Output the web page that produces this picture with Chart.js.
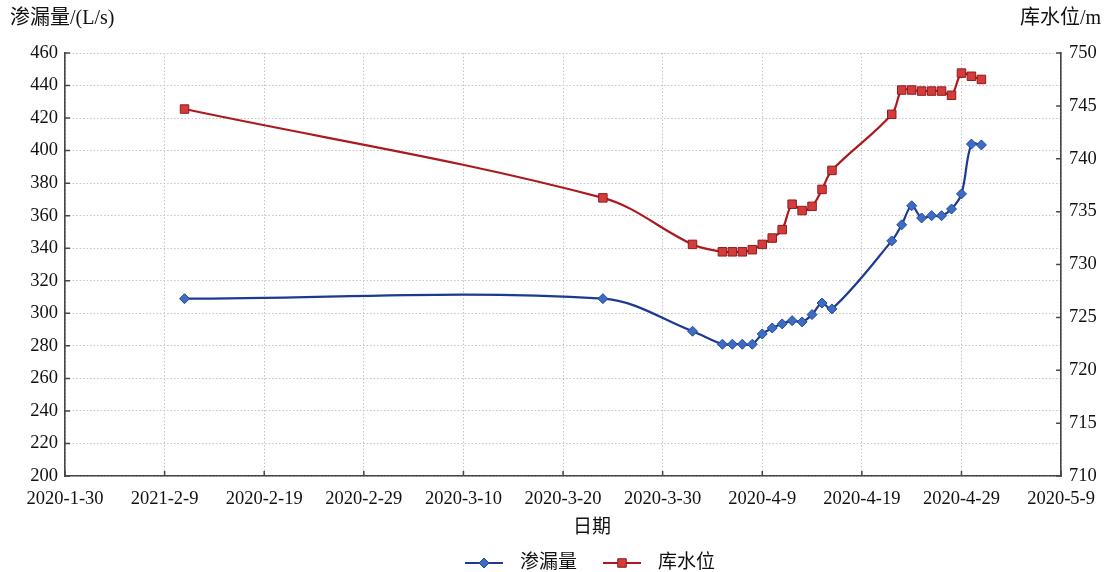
<!DOCTYPE html>
<html>
<head>
<meta charset="utf-8">
<script src="https://cdn.jsdelivr.net/npm/chart.js@4/dist/chart.umd.min.js"></script>
<style>
  html, body { margin: 0; padding: 0; background: #ffffff; }
  canvas { display: block; }
</style>
</head>
<body>
<canvas id="chart" width="1107" height="572"></canvas>
<script>
// Observation dates
const dates = ['2020-2-11', '2020-3-24', '2020-4-2', '2020-4-5', '2020-4-6', '2020-4-7', '2020-4-8',
  '2020-4-9', '2020-4-10', '2020-4-11', '2020-4-12', '2020-4-13', '2020-4-14', '2020-4-15', '2020-4-16',
  '2020-4-22', '2020-4-23', '2020-4-24', '2020-4-25', '2020-4-26', '2020-4-27', '2020-4-28', '2020-4-29',
  '2020-4-30', '2020-5-1'];

// 渗漏量 (L/s)
const seepage = [309, 309, 289, 281, 281, 281, 281,
  287.3, 291, 293.5, 295.5, 294.7, 299.2, 306.3, 302.7,
  344.5, 354.4, 366.1, 358.6, 360, 360, 364.1, 373.4, 404, 403.5];

// 库水位 (m)
const reservoirLevel = [744.7, 736.3, 731.9, 731.2, 731.2, 731.2, 731.4,
  731.9, 732.5, 733.3, 735.7, 735.1, 735.5, 737.1, 738.9,
  744.2, 746.5, 746.5, 746.4, 746.4, 746.4, 746.0, 748.1, 747.8, 747.5];

// Date axis labels, one every 10 days starting 2020-1-30
const xTickLabels = ['2020-1-30', '2021-2-9', '2020-2-19', '2020-2-29', '2020-3-10', '2020-3-20',
  '2020-3-30', '2020-4-9', '2020-4-19', '2020-4-29', '2020-5-9'];
const xOrigin = '2020-1-30';
const xSpanDays = 100;
const xStepDays = 10;

const leftAxis = { min: 200, max: 460, step: 20 };
const rightAxis = { min: 710, max: 750, step: 5 };

const SERIF = '"Liberation Serif", "Times New Roman", "Noto Sans CJK SC", serif';

function toUTC(s) {
  const [y, m, d] = s.split('-').map(Number);
  return Date.UTC(y, m - 1, d);
}
function dayOffset(s) {
  return Math.round((toUTC(s) - toUTC(xOrigin)) / 86400000);
}

const seepagePoints = dates.map((d, i) => ({ x: dayOffset(d), y: seepage[i] }));
const levelPoints = dates.map((d, i) => ({ x: dayOffset(d), y: reservoirLevel[i] }));

// Axis decorations: inward tick marks, unit labels, axis name and the legend row
const decorations = {
  id: 'decorations',
  afterDraw(chart) {
    const { ctx, chartArea: a, scales } = chart;
    const { x, y, y1 } = scales;
    ctx.save();
    ctx.strokeStyle = '#464646';
    ctx.lineWidth = 1.5;
    ctx.beginPath();
    y.ticks.forEach(t => { const p = y.getPixelForValue(t.value); ctx.moveTo(a.left, p); ctx.lineTo(a.left + 5, p); });
    y1.ticks.forEach(t => { const p = y1.getPixelForValue(t.value); ctx.moveTo(a.right, p); ctx.lineTo(a.right - 5, p); });
    x.ticks.forEach(t => { const p = x.getPixelForValue(t.value); ctx.moveTo(p, a.bottom); ctx.lineTo(p, a.bottom - 5); });
    ctx.stroke();

    ctx.fillStyle = '#111';
    ctx.textBaseline = 'middle';
    ctx.font = '20px ' + SERIF;
    ctx.textAlign = 'left';
    ctx.fillText('渗漏量/(L/s)', 10, 19);
    ctx.textAlign = 'right';
    ctx.fillText('库水位/m', 1101, 19);

    ctx.font = '19px ' + SERIF;
    ctx.textAlign = 'center';
    ctx.fillText('日期', 592, 528);

    // legend entries: line sample with marker, then dataset label
    const entries = [{ ds: 0, x: 465 }, { ds: 1, x: 603 }];
    const ly = 563;
    entries.forEach(e => {
      const ds = chart.data.datasets[e.ds];
      ctx.strokeStyle = ds.borderColor;
      ctx.lineWidth = ds.borderWidth;
      ctx.beginPath();
      ctx.moveTo(e.x, ly);
      ctx.lineTo(e.x + 38, ly);
      ctx.stroke();
      ctx.fillStyle = ds.pointBackgroundColor;
      ctx.strokeStyle = ds.pointBorderColor;
      ctx.lineWidth = ds.pointBorderWidth;
      Chart.helpers.drawPoint(ctx, { pointStyle: ds.pointStyle, radius: ds.pointRadius, rotation: 0, borderWidth: ds.pointBorderWidth }, e.x + 19, ly);
      ctx.fillStyle = '#111';
      ctx.textAlign = 'left';
      ctx.font = '19px ' + SERIF;
      ctx.fillText(ds.label, e.x + 55, ly);
    });
    ctx.restore();
  }
};

const gridColor = '#c4c4c4';
const axisColor = '#464646';
const tickFont = { family: SERIF, size: 18.5 };

new Chart(document.getElementById('chart'), {
  type: 'line',
  data: {
    datasets: [
      {
        label: '渗漏量',
        data: seepagePoints,
        yAxisID: 'y',
        borderColor: '#1c3b90',
        borderWidth: 2.2,
        tension: 0.35,
        pointStyle: 'rectRot',
        pointRadius: 5,
        pointBackgroundColor: '#3d6dc2',
        pointBorderColor: '#24489c',
        pointBorderWidth: 1
      },
      {
        label: '库水位',
        data: levelPoints,
        yAxisID: 'y1',
        borderColor: '#ab1a1f',
        borderWidth: 2.2,
        tension: 0.35,
        pointStyle: 'rect',
        pointRadius: 6,
        pointBackgroundColor: '#d43c3c',
        pointBorderColor: '#8e1b1d',
        pointBorderWidth: 1
      }
    ]
  },
  options: {
    responsive: false,
    animation: false,
    layout: { padding: { top: 53, left: 0, right: 0, bottom: 0 } },
    plugins: {
      legend: { display: false },
      tooltip: { enabled: false }
    },
    scales: {
      x: {
        type: 'linear',
        min: 0,
        max: xSpanDays,
        afterFit: s => { s.height = 96; },
        afterBuildTicks: s => {
          s.ticks = xTickLabels.map((_, i) => ({ value: i * xStepDays }));
        },
        ticks: {
          autoSkip: false,
          maxRotation: 0,
          padding: 12,
          color: '#111',
          font: tickFont,
          callback: v => xTickLabels[Math.round(v / xStepDays)]
        },
        grid: { color: gridColor, lineWidth: 1, drawTicks: false },
        border: { display: true, color: axisColor, width: 1.6, dash: [1.5, 2] }
      },
      y: {
        position: 'left',
        min: leftAxis.min,
        max: leftAxis.max,
        afterFit: s => { s.width = 65; },
        ticks: { stepSize: leftAxis.step, padding: 7, color: '#111', font: tickFont },
        grid: { color: gridColor, lineWidth: 1, drawTicks: false },
        border: { display: true, color: axisColor, width: 1.6, dash: [1.5, 2] }
      },
      y1: {
        position: 'right',
        min: rightAxis.min,
        max: rightAxis.max,
        afterFit: s => { s.width = 45; },
        ticks: { stepSize: rightAxis.step, padding: 8, color: '#111', font: tickFont },
        grid: { drawOnChartArea: false, drawTicks: false },
        border: { display: true, color: axisColor, width: 1.6 }
      }
    }
  },
  plugins: [decorations]
});
</script>
</body>
</html>
